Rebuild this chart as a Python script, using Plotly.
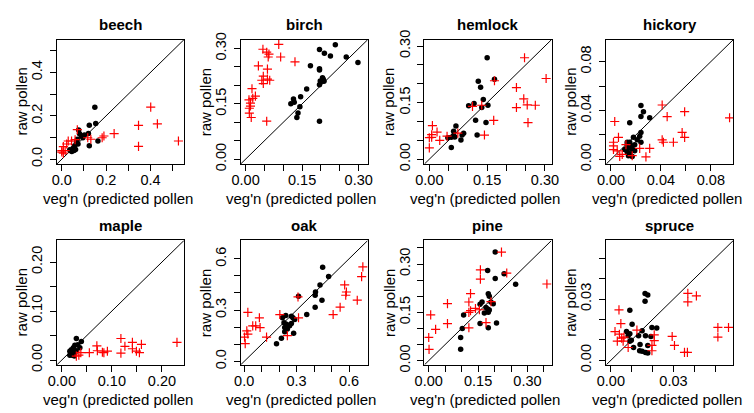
import plotly.graph_objects as go

species = ["beech", "birch", "hemlock", "hickory", "maple", "oak", "pine", "spruce"]

# black dots: predicted pollen (x) vs raw pollen (y)
beech_dot_x = [0.149, 0.153, 0.124, 0.163, 0.124, 0.120, 0.076, 0.080, 0.088, 0.095, 0.070, 0.066,
               0.058, 0.051, 0.041, 0.055, 0.036, 0.102, 0.073, 0.045, 0.062]
beech_dot_y = [0.240, 0.164, 0.156, 0.084, 0.062, 0.118, 0.135, 0.117, 0.107, 0.099, 0.092, 0.081,
               0.062, 0.050, 0.040, 0.040, 0.044, 0.111, 0.070, 0.036, 0.045]
beech_veg_x = [0.401, 0.431, 0.346, 0.346, 0.526, 0.236, 0.190, 0.182, 0.117, 0.131, 0.070, 0.044,
               0.022, 0.007, 0.000, 0.000, 0.015, 0.007, 0.029, 0.060]
beech_veg_y = [0.240, 0.163, 0.156, 0.059, 0.084, 0.118, 0.107, 0.099, 0.099, 0.092, 0.136, 0.084,
               0.070, 0.058, 0.040, 0.033, 0.040, 0.028, 0.084, 0.090]

birch_dot_x = [0.238, 0.196, 0.209, 0.225, 0.267, 0.298, 0.172, 0.196, 0.196, 0.204, 0.206, 0.202,
               0.198, 0.196, 0.208, 0.162, 0.146, 0.127, 0.129, 0.120, 0.144, 0.139, 0.136, 0.196]
birch_dot_y = [0.310, 0.297, 0.287, 0.280, 0.277, 0.262, 0.253, 0.245, 0.242, 0.221, 0.217, 0.211,
               0.212, 0.202, 0.211, 0.190, 0.169, 0.163, 0.154, 0.150, 0.142, 0.125, 0.113, 0.103]
birch_veg_x = [0.088, 0.046, 0.056, 0.062, 0.060, 0.093, 0.131, 0.034, 0.058, 0.047, 0.043, 0.058,
               0.064, 0.047, 0.017, 0.026, 0.019, 0.009, 0.013, 0.013, 0.010, 0.010, 0.015, 0.056]
birch_veg_y = [0.311, 0.298, 0.290, 0.285, 0.277, 0.277, 0.264, 0.253, 0.244, 0.225, 0.214, 0.217,
               0.214, 0.205, 0.191, 0.171, 0.165, 0.161, 0.152, 0.144, 0.138, 0.125, 0.113, 0.103]

hemlock_dot_x = [0.150, 0.127, 0.169, 0.133, 0.140, 0.116, 0.102, 0.136, 0.152, 0.120, 0.147, 0.124,
                 0.069, 0.063, 0.089, 0.085, 0.063, 0.057, 0.048, 0.082, 0.057, 0.066]
hemlock_dot_y = [0.269, 0.207, 0.212, 0.191, 0.158, 0.148, 0.142, 0.137, 0.143, 0.103, 0.097, 0.064,
                 0.088, 0.074, 0.069, 0.064, 0.063, 0.058, 0.057, 0.051, 0.031, 0.059]
hemlock_veg_x = [0.247, 0.303, 0.169, 0.226, 0.245, 0.254, 0.275, 0.226, 0.256, 0.112, 0.136, 0.167,
                 0.143, 0.008, 0.020, 0.027, 0.006, 0.000, 0.006, 0.000, 0.046, 0.074]
hemlock_veg_y = [0.269, 0.214, 0.208, 0.190, 0.160, 0.144, 0.143, 0.137, 0.097, 0.140, 0.143, 0.103,
                 0.064, 0.089, 0.072, 0.050, 0.065, 0.057, 0.058, 0.030, 0.061, 0.069]

hickory_dot_x = [0.024, 0.026, 0.024, 0.031, 0.015, 0.024, 0.023, 0.018, 0.021, 0.024, 0.013, 0.015,
                 0.013, 0.019, 0.017, 0.014, 0.011, 0.017, 0.013, 0.015, 0.017, 0.019, 0.014]
hickory_dot_y = [0.044, 0.039, 0.035, 0.034, 0.030, 0.022, 0.019, 0.018, 0.016, 0.014, 0.014, 0.014,
                 0.012, 0.012, 0.011, 0.009, 0.008, 0.008, 0.006, 0.0045, 0.0024, 0.007, 0.003]
hickory_veg_x = [0.041, 0.045, 0.059, 0.095, 0.003, 0.057, 0.059, 0.041, 0.042, 0.050, 0.006, 0.002,
                 0.002, 0.002, 0.005, 0.009, 0.007, 0.017, 0.023, 0.031, 0.028, 0.012]
hickory_veg_y = [0.0445, 0.035, 0.039, 0.034, 0.031, 0.022, 0.018, 0.016, 0.014, 0.014, 0.018, 0.014,
                 0.011, 0.008, 0.007, 0.004, 0.0024, 0.003, 0.009, 0.009, 0.002, 0.012]

maple_dot_x = [0.029, 0.039, 0.032, 0.026, 0.023, 0.019, 0.016, 0.023, 0.018, 0.026, 0.021, 0.016,
               0.029, 0.025, 0.036]
maple_dot_y = [0.044, 0.038, 0.031, 0.030, 0.025, 0.021, 0.018, 0.017, 0.013, 0.015, 0.010, 0.010,
               0.019, 0.008, 0.025]
maple_veg_x = [0.118, 0.230, 0.141, 0.159, 0.126, 0.070, 0.071, 0.141, 0.149, 0.155, 0.118, 0.091,
               0.081, 0.084, 0.055, 0.038, 0.029, 0.034]
maple_veg_y = [0.044, 0.036, 0.036, 0.032, 0.028, 0.029, 0.019, 0.023, 0.018, 0.015, 0.014, 0.018,
               0.016, 0.015, 0.015, 0.015, 0.008, 0.010]

oak_dot_x = [0.449, 0.483, 0.434, 0.408, 0.406, 0.445, 0.406, 0.311, 0.358, 0.238, 0.270, 0.279,
             0.219, 0.289, 0.242, 0.260, 0.232, 0.247, 0.270, 0.283, 0.232, 0.213, 0.185, 0.228]
oak_dot_y = [0.551, 0.496, 0.447, 0.406, 0.387, 0.358, 0.317, 0.381, 0.274, 0.268, 0.264, 0.255,
             0.255, 0.245, 0.217, 0.208, 0.198, 0.189, 0.221, 0.164, 0.174, 0.136, 0.104, 0.226]
oak_veg_x = [0.679, 0.672, 0.575, 0.585, 0.581, 0.647, 0.549, 0.509, 0.308, 0.204, 0.311, 0.247,
             0.021, 0.087, 0.049, 0.066, 0.091, 0.015, 0.021, 0.002, 0.006, 0.128]
oak_veg_y = [0.553, 0.496, 0.447, 0.406, 0.387, 0.358, 0.317, 0.274, 0.377, 0.274, 0.255, 0.151,
             0.287, 0.255, 0.208, 0.208, 0.198, 0.179, 0.160, 0.142, 0.104, 0.142]

pine_dot_x = [0.202, 0.179, 0.229, 0.202, 0.264, 0.181, 0.184, 0.162, 0.156, 0.196, 0.174, 0.179,
              0.184, 0.169, 0.181, 0.106, 0.156, 0.206, 0.181, 0.102, 0.097, 0.097, 0.189]
pine_dot_y = [0.337, 0.280, 0.270, 0.255, 0.237, 0.208, 0.200, 0.182, 0.175, 0.177, 0.165, 0.160,
              0.157, 0.148, 0.150, 0.142, 0.115, 0.117, 0.102, 0.100, 0.072, 0.035, 0.182]
pine_veg_x = [0.221, 0.157, 0.157, 0.237, 0.359, 0.127, 0.057, 0.122, 0.189, 0.142, 0.122, 0.127,
              0.154, 0.006, 0.057, 0.174, 0.122, 0.021, 0.000, 0.001]
pine_veg_y = [0.337, 0.282, 0.253, 0.272, 0.238, 0.208, 0.177, 0.182, 0.183, 0.162, 0.150, 0.155,
              0.158, 0.142, 0.115, 0.118, 0.102, 0.097, 0.072, 0.035]

spruce_dot_x = [0.0164, 0.0177, 0.0164, 0.0091, 0.0102, 0.0197, 0.0220, 0.0150, 0.0075, 0.0091,
                0.0083, 0.0133, 0.0166, 0.0192, 0.0098, 0.0091, 0.0140, 0.0177, 0.0109, 0.0138,
                0.0150, 0.0166, 0.0177]
spruce_dot_y = [0.0328, 0.0320, 0.0289, 0.0245, 0.0177, 0.0161, 0.0159, 0.0145, 0.0141, 0.0130,
                0.0120, 0.0120, 0.0120, 0.0117, 0.0098, 0.0094, 0.0078, 0.0073, 0.0063, 0.0047,
                0.0044, 0.0039, 0.0036]
spruce_veg_x = [0.0369, 0.0410, 0.0369, 0.0039, 0.0048, 0.0020, 0.0041, 0.0063, 0.0052, 0.0031,
                0.0059, 0.0083, 0.0125, 0.0208, 0.0208, 0.0197, 0.0197, 0.0294, 0.0305, 0.0353,
                0.0367, 0.0513, 0.0513, 0.0564]
spruce_veg_y = [0.0328, 0.0316, 0.0286, 0.0247, 0.0180, 0.0141, 0.0128, 0.0114, 0.0109, 0.0094,
                0.0094, 0.0063, 0.0148, 0.0125, 0.0097, 0.0073, 0.0047, 0.0117, 0.0073, 0.0039,
                0.0039, 0.0161, 0.0114, 0.0161]

# axis limits (same for x and y in every panel)
lim_lo = [-0.022, -0.013, -0.0127, -0.0038, -0.0098, -0.020, -0.013, -0.0022]
lim_hi = [0.551, 0.324, 0.317, 0.098, 0.244, 0.707, 0.373, 0.0587]

# ticks
beech_ticks = [0.0, 0.1, 0.2, 0.3, 0.4, 0.5]
beech_labels = ["0.0", "", "0.2", "", "0.4", ""]
birch_ticks = [0.0, 0.05, 0.10, 0.15, 0.20, 0.25, 0.30]
birch_labels = ["0.00", "", "", "0.15", "", "", "0.30"]
hemlock_ticks = [0.0, 0.05, 0.10, 0.15, 0.20, 0.25, 0.30]
hemlock_labels = ["0.00", "", "", "0.15", "", "", "0.30"]
hickory_ticks = [0.0, 0.02, 0.04, 0.06, 0.08]
hickory_labels = ["0.00", "", "0.04", "", "0.08"]
maple_ticks = [0.0, 0.05, 0.10, 0.15, 0.20]
maple_labels = ["0.00", "", "0.10", "", "0.20"]
oak_ticks = [0.0, 0.1, 0.2, 0.3, 0.4, 0.5, 0.6]
oak_labels = ["0.0", "", "", "0.3", "", "", "0.6"]
pine_ticks = [0.0, 0.05, 0.10, 0.15, 0.20, 0.25, 0.30, 0.35]
pine_labels = ["0.00", "", "", "0.15", "", "", "0.30", ""]
spruce_ticks = [0.0, 0.01, 0.02, 0.03, 0.04, 0.05]
spruce_labels = ["0.00", "", "", "0.03", "", ""]

x_title = "veg'n (predicted pollen"
y_title = "raw pollen"

dots_x = [beech_dot_x, birch_dot_x, hemlock_dot_x, hickory_dot_x, maple_dot_x, oak_dot_x, pine_dot_x, spruce_dot_x]
dots_y = [beech_dot_y, birch_dot_y, hemlock_dot_y, hickory_dot_y, maple_dot_y, oak_dot_y, pine_dot_y, spruce_dot_y]
veg_x = [beech_veg_x, birch_veg_x, hemlock_veg_x, hickory_veg_x, maple_veg_x, oak_veg_x, pine_veg_x, spruce_veg_x]
veg_y = [beech_veg_y, birch_veg_y, hemlock_veg_y, hickory_veg_y, maple_veg_y, oak_veg_y, pine_veg_y, spruce_veg_y]
ticks = [beech_ticks, birch_ticks, hemlock_ticks, hickory_ticks, maple_ticks, oak_ticks, pine_ticks, spruce_ticks]
labels = [beech_labels, birch_labels, hemlock_labels, hickory_labels, maple_labels, oak_labels, pine_labels, spruce_labels]

W, H = 754, 413
col_left = [48, 236, 424, 610]
row_top = [31, 241]
BOX = 130
FONT = "Liberation Sans, Arial, Helvetica, sans-serif"

fig = go.Figure()
layout = dict(
    width=W, height=H, margin=dict(l=0, r=0, t=0, b=0),
    paper_bgcolor="white", plot_bgcolor="white", showlegend=False,
    font=dict(family=FONT, color="black", size=14),
)
annotations = []

for i, name in enumerate(species):
    r, c = divmod(i, 4)
    x0 = col_left[c]
    y0 = row_top[r]
    sfx = "" if i == 0 else str(i + 1)
    xa, ya = "x" + sfx, "y" + sfx
    lims = [lim_lo[i], lim_hi[i]]
    # 1:1 line
    fig.add_trace(go.Scatter(x=lims, y=lims, mode="lines", line=dict(color="black", width=1),
                             xaxis=xa, yaxis=ya, hoverinfo="skip"))
    fig.add_trace(go.Scatter(x=dots_x[i], y=dots_y[i], mode="markers",
                             marker=dict(symbol="circle", size=5.5, color="black"),
                             xaxis=xa, yaxis=ya, name=name + " predicted"))
    fig.add_trace(go.Scatter(x=veg_x[i], y=veg_y[i], mode="markers",
                             marker=dict(symbol="cross-thin", size=6.5, color="red",
                                         line=dict(color="red", width=1.2)),
                             xaxis=xa, yaxis=ya, name=name + " veg"))
    common = dict(range=lims, tickmode="array", tickvals=ticks[i], ticktext=labels[i],
                  ticks="outside", ticklen=6, tickwidth=1, tickcolor="black",
                  showline=True, linecolor="black", linewidth=1, mirror=True,
                  showgrid=False, zeroline=False, tickfont=dict(size=14.5, family=FONT))
    layout["xaxis" + sfx] = dict(common, domain=[x0 / W, (x0 + BOX) / W], anchor=ya,
                                 ticklabelstandoff=-3)
    layout["yaxis" + sfx] = dict(common, domain=[1 - (y0 + BOX) / H, 1 - y0 / H], anchor=xa,
                                 tickangle=-90, ticklabelstandoff=2)
    cx = x0 + BOX / 2
    annotations.append(dict(text="<b>" + name + "</b>", x=cx / W, y=1 - (y0 - 16) / H,
                            xref="paper", yref="paper", showarrow=False,
                            font=dict(size=15, family=FONT), xanchor="center", yanchor="middle"))
    annotations.append(dict(text=x_title, x=(cx - 3) / W, y=1 - (y0 + BOX + 36) / H,
                            xref="paper", yref="paper", showarrow=False,
                            font=dict(size=15, family=FONT), xanchor="center", yanchor="middle"))
    annotations.append(dict(text=y_title, x=(x0 - 36) / W, y=1 - (y0 + BOX / 2) / H,
                            xref="paper", yref="paper", showarrow=False, textangle=-90,
                            font=dict(size=15, family=FONT), xanchor="center", yanchor="middle"))

layout["annotations"] = annotations
fig.update_layout(**layout)
fig.write_html("out.html")
